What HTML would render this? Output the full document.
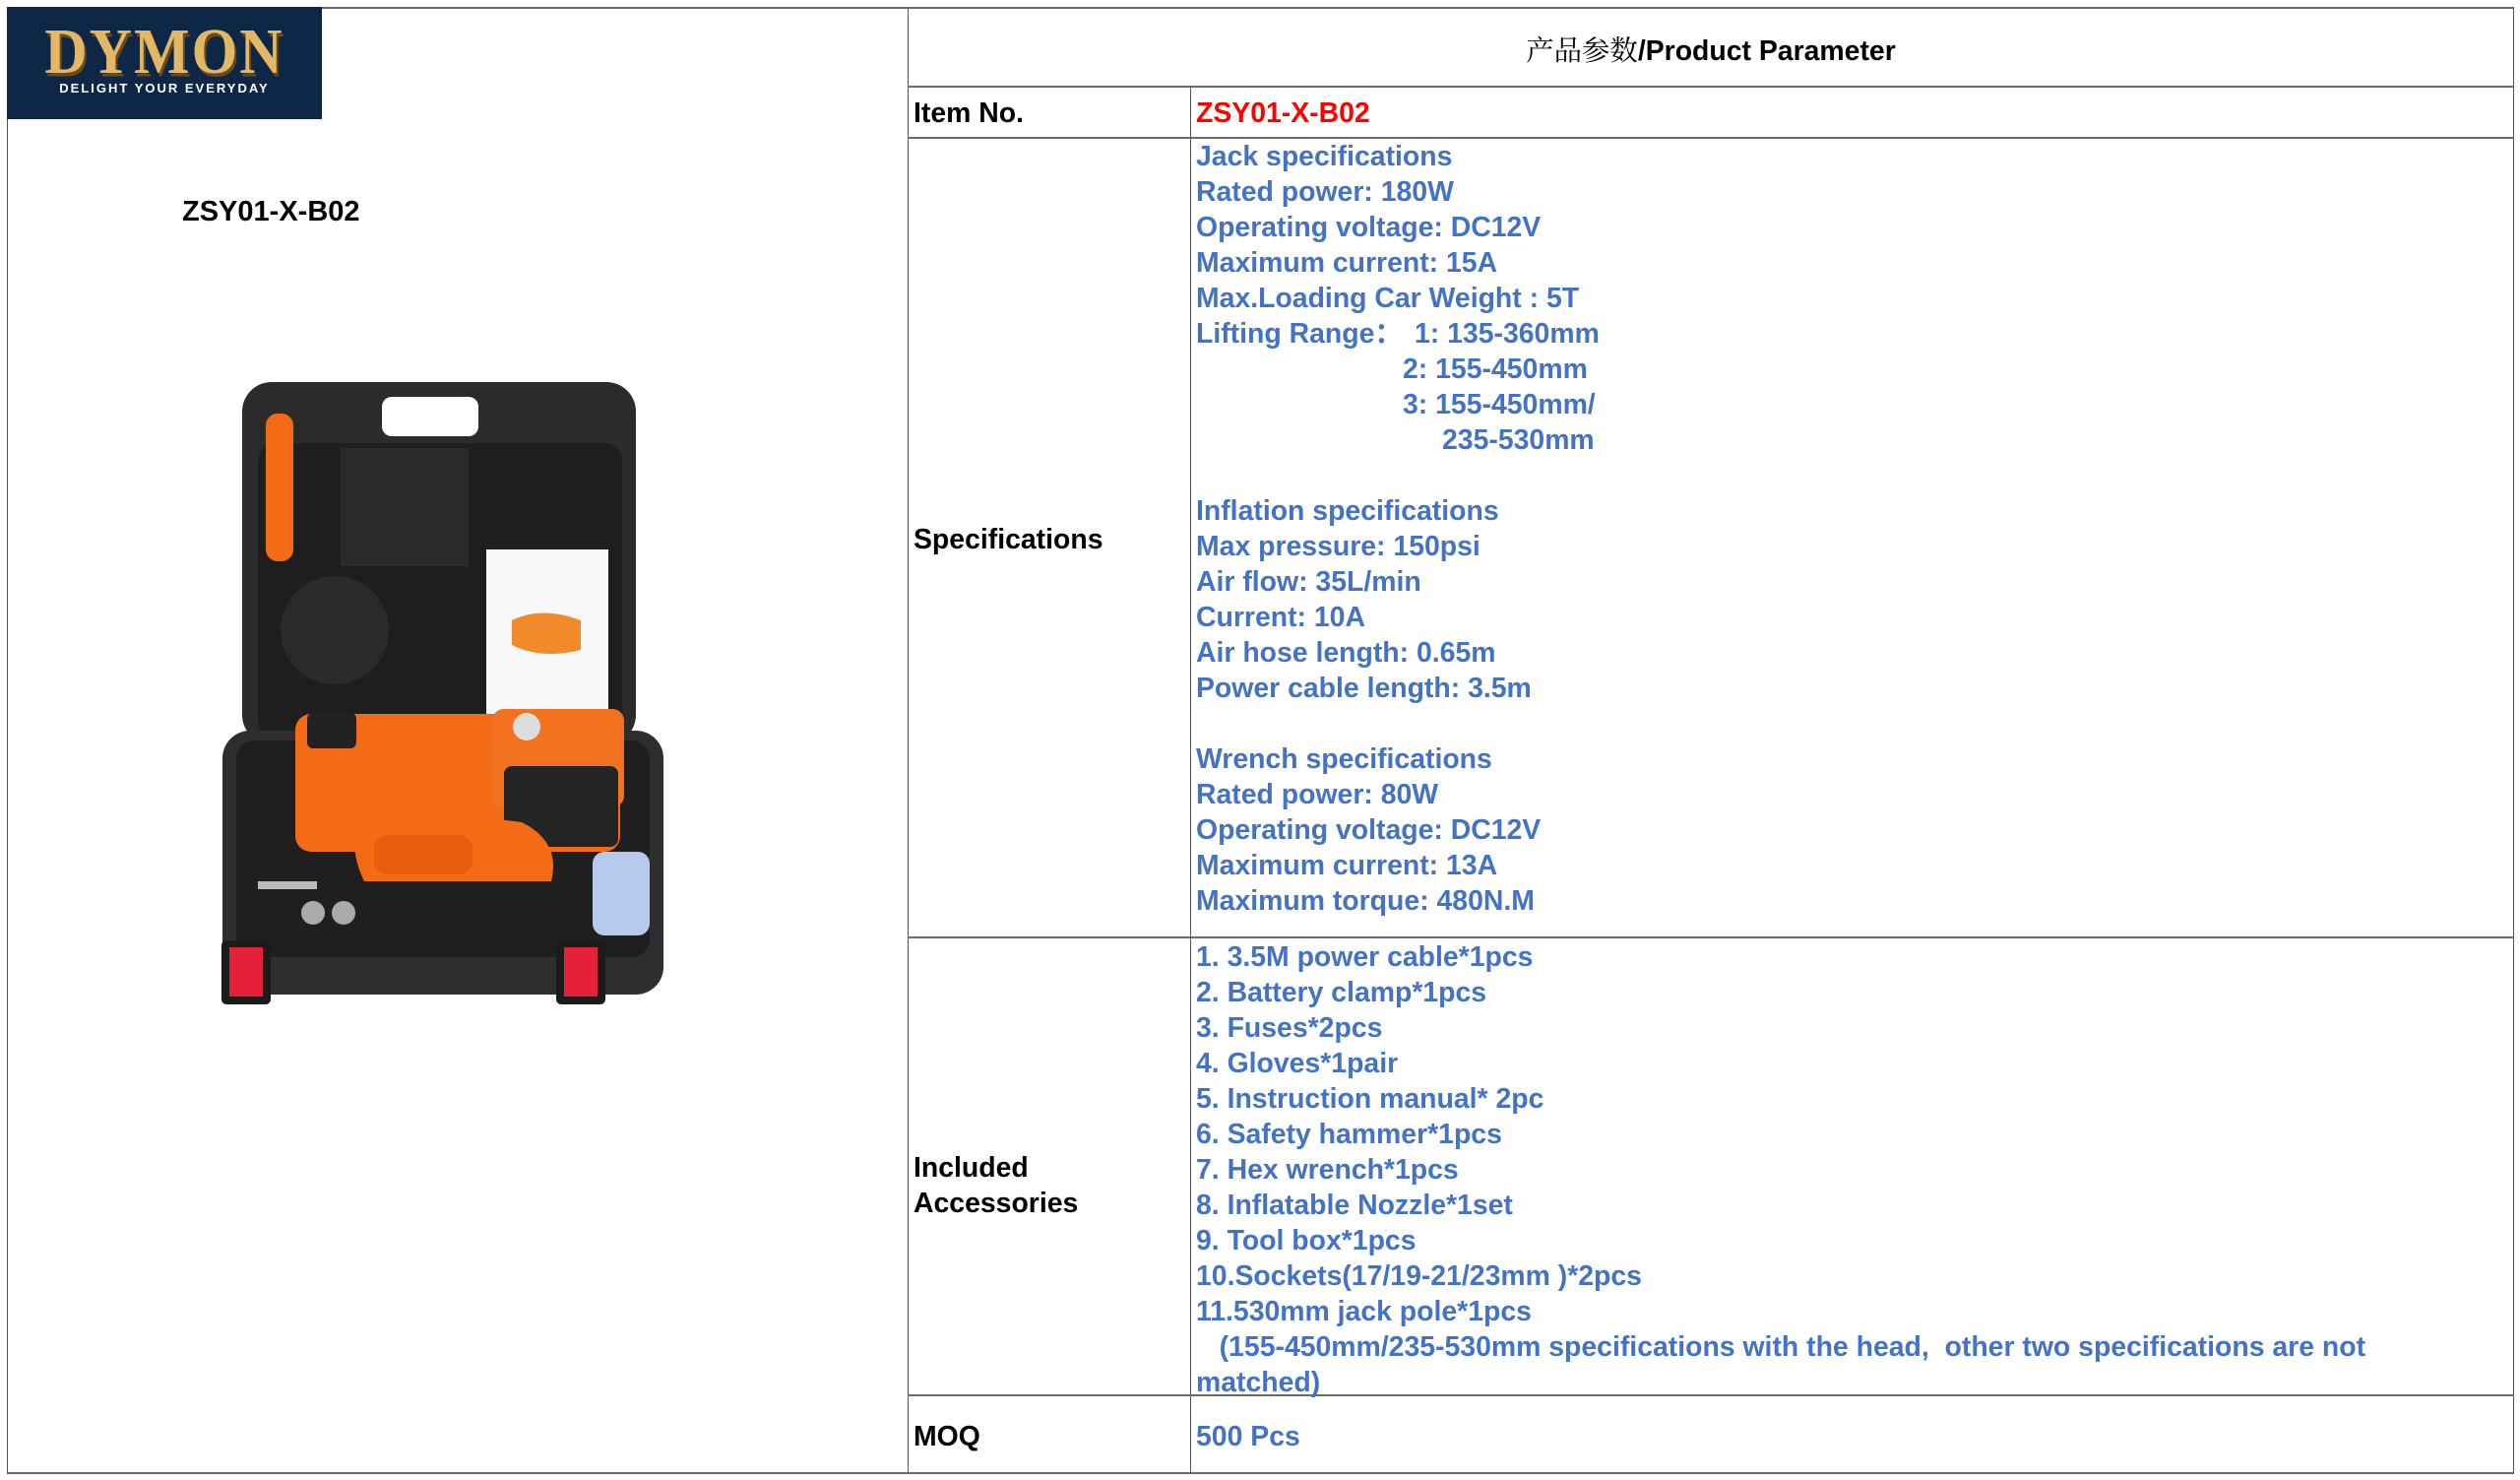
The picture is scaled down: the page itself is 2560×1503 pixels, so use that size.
<!DOCTYPE html>
<html><head><meta charset="utf-8"><style>
html,body{margin:0;padding:0;background:#fff}
body{width:2560px;height:1503px;position:relative;overflow:hidden;font-family:"Liberation Sans","Noto Sans CJK SC",sans-serif;font-weight:bold}
.h{position:absolute;height:2px;background:#6a6a6a}
.v{position:absolute;width:1px;background:#555}
.t{position:absolute;font-size:28.4px;line-height:36px;white-space:pre;color:#000}
.b{color:#4472c4}
</style></head><body>
<div class="h" style="left:7px;top:7px;width:2547px"></div>
<div class="h" style="left:7px;top:1495px;width:2547px"></div>
<div class="v" style="left:7px;top:7px;height:1489px"></div>
<div class="v" style="left:2553px;top:7px;height:1489px"></div>
<div class="v" style="left:922px;top:7px;height:1489px"></div>
<div class="v" style="left:1209px;top:88px;height:1408px"></div>
<div class="h" style="left:922px;top:87px;width:1632px"></div>
<div class="h" style="left:922px;top:139px;width:1632px"></div>
<div class="h" style="left:922px;top:951px;width:1632px"></div>
<div class="h" style="left:922px;top:1416px;width:1632px"></div>

<div style="position:absolute;left:7px;top:7px;width:320px;height:114px;background:#0e2747"></div>
<div style="position:absolute;left:7px;top:20px;width:320px;text-align:center;font-family:'Liberation Serif',serif;font-size:60px;line-height:64px;color:#e2b866;letter-spacing:2px;transform:scaleY(1.1);text-shadow:2px 3px 0 #6b4b1a">DYMON</div>
<div style="position:absolute;left:7px;top:82px;width:320px;text-align:center;font-size:13px;line-height:16px;color:#fff;letter-spacing:2px">DELIGHT YOUR EVERYDAY</div>

<div class="t" style="left:185px;top:197px;font-size:29px">ZSY01-X-B02</div>

<svg style="position:absolute;left:0;top:0" width="923" height="1100">
<rect x="246" y="388" width="400" height="368" rx="30" fill="#2b2b2b"/>
<rect x="388" y="403" width="98" height="40" rx="10" fill="#fff"/>
<rect x="262" y="450" width="370" height="300" rx="18" fill="#1e1e1e"/>
<rect x="270" y="420" width="28" height="150" rx="12" fill="#f36a17"/>
<rect x="346" y="455" width="130" height="120" fill="#2a2a2a"/>
<circle cx="340" cy="640" r="55" fill="#2a2a2a"/>
<rect x="494" y="558" width="124" height="180" fill="#f8f8f8"/>
<path d="M520 630 q30 -15 70 0 l0 30 q-40 10 -70 -5z" fill="#f28a2c"/>
<rect x="226" y="742" width="448" height="268" rx="28" fill="#2e2e2e"/>
<rect x="240" y="752" width="420" height="220" rx="18" fill="#1f1f1f"/>
<rect x="300" y="725" width="330" height="140" rx="16" fill="#f36a17"/>
<rect x="500" y="720" width="134" height="100" rx="12" fill="#f3721f"/>
<rect x="512" y="778" width="116" height="82" rx="8" fill="#242424"/>
<circle cx="535" cy="738" r="14" fill="#ddd"/>
<rect x="312" y="724" width="50" height="36" rx="6" fill="#222"/>
<path d="M370 815 l160 20 q40 20 30 60 l-190 0 q-20 -40 0 -80z" fill="#f36a17"/>
<rect x="380" y="848" width="100" height="40" rx="14" fill="#e95d0c"/>
<rect x="262" y="895" width="60" height="8" fill="#bbb"/>
<circle cx="318" cy="927" r="12" fill="#aaa"/><circle cx="349" cy="927" r="12" fill="#aaa"/>
<rect x="602" y="865" width="58" height="85" rx="12" fill="#b8c9ef"/>
<rect x="225" y="955" width="50" height="65" rx="5" fill="#1b1b1b"/>
<rect x="233" y="962" width="34" height="50" fill="#e5213a"/>
<rect x="565" y="955" width="50" height="65" rx="5" fill="#1b1b1b"/>
<rect x="573" y="962" width="34" height="50" fill="#e5213a"/>
</svg>

<div class="t" style="left:922px;top:32px;width:1632px;text-align:center;font-weight:normal"><span style="font-family:'Noto Serif CJK SC',serif">产品参数</span><b>/Product Parameter</b></div>

<div class="t" style="left:928px;top:97px">Item No.</div>
<div class="t" style="left:1215px;top:97px;color:#f00">ZSY01-X-B02</div>

<div class="t" style="left:928px;top:530px">Specifications</div>
<div class="t b" style="left:1215px;top:141px">Jack specifications
Rated power: 180W
Operating voltage: DC12V
Maximum current: 15A
Max.Loading Car Weight : 5T
Lifting Range：</div>
<div class="t b" style="left:1437px;top:321px">1: 135-360mm</div>
<div class="t b" style="left:1425px;top:357px">2: 155-450mm
3: 155-450mm/</div>
<div class="t b" style="left:1465px;top:429px">235-530mm</div>
<div class="t b" style="left:1215px;top:501px">Inflation specifications
Max pressure: 150psi
Air flow: 35L/min
Current: 10A
Air hose length: 0.65m
Power cable length: 3.5m

Wrench specifications
Rated power: 80W
Operating voltage: DC12V
Maximum current: 13A
Maximum torque: 480N.M</div>

<div class="t" style="left:928px;top:1168px">Included
Accessories</div>
<div class="t b" style="left:1215px;top:954px">1. 3.5M power cable*1pcs
2. Battery clamp*1pcs
3. Fuses*2pcs
4. Gloves*1pair
5. Instruction manual* 2pc
6. Safety hammer*1pcs
7. Hex wrench*1pcs
8. Inflatable Nozzle*1set
9. Tool box*1pcs
10.Sockets(17/19-21/23mm )*2pcs
11.530mm jack pole*1pcs
   (155-450mm/235-530mm specifications with the head,  other two specifications are not
matched)</div>

<div class="t" style="left:928px;top:1441px">MOQ</div>
<div class="t b" style="left:1215px;top:1441px">500 Pcs</div>
</body></html>
